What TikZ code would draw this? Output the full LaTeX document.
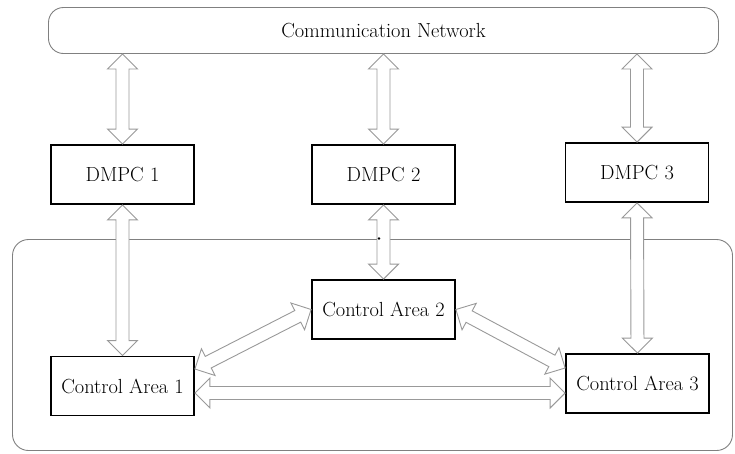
\documentclass[tikz,border=0pt]{standalone}
\usetikzlibrary{calc}
\newcommand\arrHL{15pt}
\newcommand\arrHW{15pt}
\newcommand\arrSW{6.5pt}
\newcommand\fatarrow[2]{%
  \coordinate (qa) at (#1);
  \coordinate (qb) at (#2);
  \coordinate (qa1) at ($(qa)!\arrHL!(qb)$);
  \coordinate (qb1) at ($(qb)!\arrHL!(qa)$);
  \draw[fatarr] (qa) -- ($(qa1)!\arrHW!90:(qb)$) -- ($(qa1)!\arrSW!90:(qb)$)
    -- ($(qb1)!\arrSW!-90:(qa)$) -- ($(qb1)!\arrHW!-90:(qa)$) -- (qb)
    -- ($(qb1)!\arrHW!90:(qa)$) -- ($(qb1)!\arrSW!90:(qa)$)
    -- ($(qa1)!\arrSW!-90:(qb)$) -- ($(qa1)!\arrHW!-90:(qb)$) -- cycle;}
\tikzset{
  fatarr/.style={draw=black!40, fill=white, line width=0.9pt, line join=miter},
  netbox/.style={draw=black!50, line width=0.9pt, rounded corners=15pt,
    minimum width=670pt, minimum height=46pt, inner sep=0pt},
  areabox/.style={draw=black!50, line width=0.9pt, rounded corners=16pt,
    minimum width=720pt, minimum height=211pt, inner sep=0pt},
  blk/.style={draw=black, line width=1.8pt, fill=white,
    minimum width=143pt, minimum height=59pt, inner sep=0pt}
}
\begin{document}
\begin{tikzpicture}[x=1pt, y=-1pt, font=\fontsize{20.4}{24}\selectfont]
\useasboundingbox (0,0) rectangle (735,453);
\node[netbox] (net) at (383.5,30.5) {Communication Network};
\node[areabox] (area) at (372.5,345) {};
\node[blk] (d1) at (122.5,174.5) {DMPC 1};
\node[blk] (d2) at (383.5,174.5) {DMPC 2};
\node[blk] (d3) at (637,172.5) {DMPC 3};
\node[blk] (c1) at (122.5,386) {Control Area 1};
\node[blk] (c2) at (383.5,309.5) {Control Area 2};
\node[blk] (c3) at (637.5,383.5) {Control Area 3};
\fatarrow{net.south -| d1.north}{d1.north}
\fatarrow{net.south -| d2.north}{d2.north}
\fatarrow{net.south -| d3.north}{d3.north}
\fatarrow{d1.south}{c1.north}
\fatarrow{d2.south}{c2.north}
\fatarrow{d3.south}{c3.north}
\fatarrow{[yshift=17pt]c1.east}{c2.west}
\fatarrow{c2.east}{[yshift=15.5pt]c3.west}
\fatarrow{[yshift=-7pt]c1.east}{[yshift=-7pt]c1.east -| c3.west}
\fill (379,238.5) circle (1.3pt);
\end{tikzpicture}
\end{document}
